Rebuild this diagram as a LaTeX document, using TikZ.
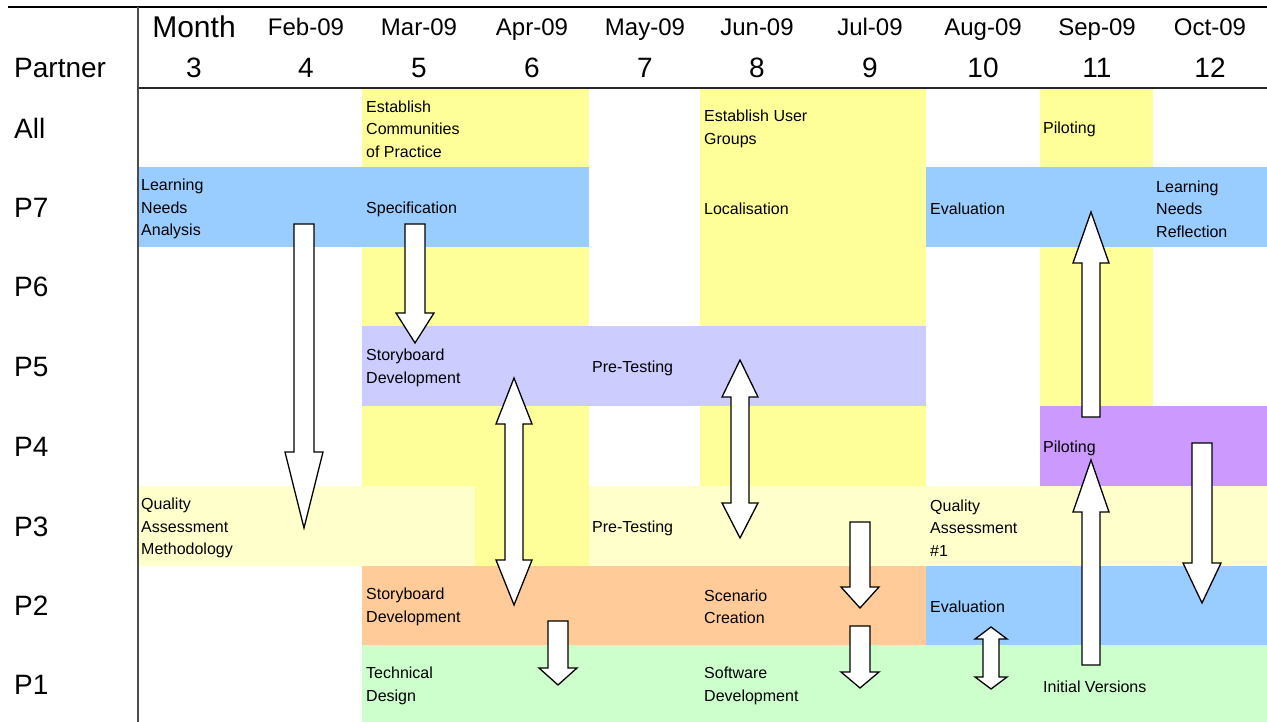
\documentclass[tikz,border=0pt]{standalone}
\usepackage{fontspec}
\setmainfont{Liberation Sans}
\definecolor{cyel}{HTML}{FFFF99}
\definecolor{cblue}{HTML}{99CCFF}
\definecolor{clav}{HTML}{CCCCFF}
\definecolor{cpur}{HTML}{CC99FF}
\definecolor{cltyel}{HTML}{FFFFCC}
\definecolor{corg}{HTML}{FFCC99}
\definecolor{cgrn}{HTML}{CCFFCC}
% single block arrow: cx, shaft end, head base, tip, shaft half width, head half width
\newcommand{\blkarrow}[6]{%
  \draw[blockarrow] ({#1-#5},#2) -- ({#1+#5},#2) -- ({#1+#5},#3) -- ({#1+#6},#3)
    -- (#1,#4) -- ({#1-#6},#3) -- ({#1-#5},#3) -- cycle;}
% double block arrow: cx, tip1, base1, base2, tip2, shaft hw, head hw
\newcommand{\blkdbl}[7]{%
  \draw[blockarrow] (#1,#2) -- ({#1+#7},#3) -- ({#1+#6},#3) -- ({#1+#6},#4) -- ({#1+#7},#4)
    -- (#1,#5) -- ({#1-#7},#4) -- ({#1-#6},#4) -- ({#1-#6},#3) -- ({#1-#7},#3) -- cycle;}
\tikzset{
  blockarrow/.style={fill=white, draw=black, line width=1.3pt, line join=miter},
  celltext/.style={anchor=west, align=left, inner sep=0pt, yshift=-2pt, font=\fontsize{16}{22.5}\selectfont},
  rowlabel/.style={anchor=west, inner sep=0pt, font=\fontsize{28}{30}\selectfont},
  monthlabel/.style={anchor=base, inner sep=0pt, font=\fontsize{24}{26}\selectfont},
  numlabel/.style={anchor=base, inner sep=0pt, font=\fontsize{28}{30}\selectfont},
}
\begin{document}
\begin{tikzpicture}[x=1pt,y=-1pt]
\useasboundingbox (0,0) rectangle (1267,722);
\fill[white] (0,0) rectangle (1267,722);
% ---- coloured cells ----
% yellow columns 5-6
\fill[cyel] (362,88) rectangle (589,167);
\fill[cyel] (362,247) rectangle (589,326);
\fill[cyel] (362,406) rectangle (589,486);
\fill[cyel] (475,486) rectangle (589,566);
% yellow columns 8-9
\fill[cyel] (700,88) rectangle (926,326);
\fill[cyel] (700,406) rectangle (926,486);
% yellow column 11
\fill[cyel] (1040,88) rectangle (1153,167);
\fill[cyel] (1040,247) rectangle (1153,406);
% P7
\fill[cblue] (138,167) rectangle (589,247);
\fill[cblue] (926,167) rectangle (1267,247);
% P5
\fill[clav] (362,326) rectangle (926,406);
% P4
\fill[cpur] (1040,406) rectangle (1267,486);
% P3
\fill[cltyel] (138,486) rectangle (475,566);
\fill[cltyel] (589,486) rectangle (1267,566);
% P2
\fill[corg] (362,566) rectangle (926,645);
\fill[cblue] (926,566) rectangle (1267,645);
% P1
\fill[cgrn] (362,645) rectangle (1267,722);
% ---- rules ----
\draw[line width=2pt, black] (8,7) -- (1267,7);
\draw[line width=2pt, black!85] (138,88) -- (1267,88);
\draw[line width=2pt, black!70] (138,7) -- (138,722);
% ---- header ----
\node[anchor=base, inner sep=0pt, font=\fontsize{30}{32}\selectfont] (hmonth) at (194,38) {Month};
\node[monthlabel] (m4) at (306,36) {Feb-09};
\node[monthlabel] (m5) at (419,36) {Mar-09};
\node[monthlabel] (m6) at (532,36) {Apr-09};
\node[monthlabel] (m7) at (645,36) {May-09};
\node[monthlabel] (m8) at (757,36) {Jun-09};
\node[monthlabel] (m9) at (870,36) {Jul-09};
\node[monthlabel] (m10) at (983,36) {Aug-09};
\node[monthlabel] (m11) at (1097,36) {Sep-09};
\node[monthlabel] (m12) at (1210,36) {Oct-09};
\node[rowlabel] (hpartner) at (14,68) {Partner};
\node[numlabel] (n3) at (194,78) {3};
\node[numlabel] (n4) at (306,78) {4};
\node[numlabel] (n5) at (419,78) {5};
\node[numlabel] (n6) at (532,78) {6};
\node[numlabel] (n7) at (645,78) {7};
\node[numlabel] (n8) at (757,78) {8};
\node[numlabel] (n9) at (870,78) {9};
\node[numlabel] (n10) at (983,78) {10};
\node[numlabel] (n11) at (1097,78) {11};
\node[numlabel] (n12) at (1210,78) {12};
% ---- row labels ----
\node[rowlabel] (rAll) at (14,128) {All};
\node[rowlabel] (rP7) at (14,208) {P7};
\node[rowlabel] (rP6) at (14,287) {P6};
\node[rowlabel] (rP5) at (14,367) {P5};
\node[rowlabel] (rP4) at (14,447) {P4};
\node[rowlabel] (rP3) at (14,527) {P3};
\node[rowlabel] (rP2) at (14,606) {P2};
\node[rowlabel] (rP1) at (14,685) {P1};
% ---- cell texts ----
\node[celltext] (tcop) at (366,127) {Establish\\Communities\\of Practice};
\node[celltext] (tug) at (704,127) {Establish User\\Groups};
\node[celltext] (tpil1) at (1043,127) {Piloting};
\node[celltext] (tlna) at (141,207) {Learning\\Needs\\Analysis};
\node[celltext] (tspec) at (366,207) {Specification};
\node[celltext] (tloc) at (704,207) {Localisation};
\node[celltext] (teval1) at (930,207) {Evaluation};
\node[celltext] (tlnr) at (1156,207) {Learning\\Needs\\Reflection};
\node[celltext] (tsb1) at (366,366) {Storyboard\\Development};
\node[celltext] (tpt1) at (592,366) {Pre-Testing};
\node[celltext] (tpil2) at (1043,446) {Piloting};
\node[celltext] (tqam) at (141,526) {Quality\\Assessment\\Methodology};
\node[celltext] (tpt2) at (592,526) {Pre-Testing};
\node[celltext] (tqa1) at (930,526) {Quality\\Assessment\\\#1};
\node[celltext] (tsb2) at (366,605) {Storyboard\\Development};
\node[celltext] (tsc) at (704,605) {Scenario\\Creation};
\node[celltext] (teval2) at (930,605) {Evaluation};
\node[celltext] (ttd) at (366,684) {Technical\\Design};
\node[celltext] (tsd) at (704,684) {Software\\Development};
\node[celltext] (tiv) at (1043,685) {Initial Versions};
% ---- block arrows ----
\blkarrow{304}{224}{452}{528}{10}{19}
\blkarrow{415}{224}{313}{343}{10}{19}
\blkdbl{514}{378}{424}{560}{605}{9}{18}
\blkarrow{558}{621}{668}{685}{10}{19}
\blkdbl{740}{360}{397}{503}{538}{9}{18}
\blkarrow{860}{522}{587}{608}{10}{19}
\blkarrow{860}{626}{672}{688}{10}{19}
\blkdbl{991}{627}{639}{677}{689}{8}{16}
\blkarrow{1091}{417}{263}{212}{9}{18}
\blkarrow{1091}{665}{512}{460}{9}{18}
\blkarrow{1202}{443}{563}{603}{10}{19}
\end{tikzpicture}
\end{document}
